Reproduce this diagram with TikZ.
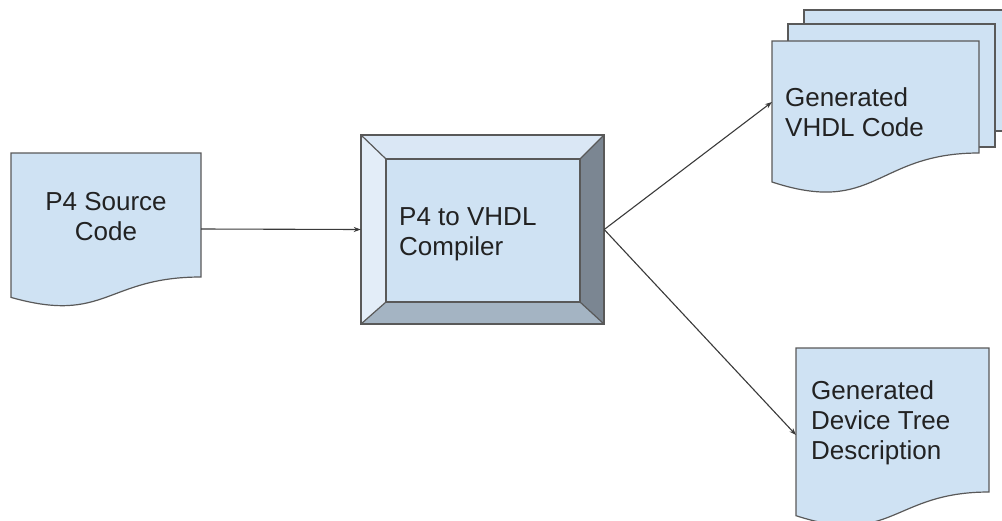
\documentclass[tikz,border=0pt]{standalone}
\usepackage{fontspec}
\setmainfont{Liberation Sans}
\usetikzlibrary{arrows.meta,calc}
\definecolor{docfill}{HTML}{CFE2F3}
\definecolor{docline}{HTML}{595959}
\definecolor{arrowc}{HTML}{3A3A3A}
\definecolor{textc}{HTML}{222222}
\definecolor{bvtop}{HTML}{DAE7F5}
\definecolor{bvleft}{HTML}{E3EDF8}
\definecolor{bvright}{HTML}{7B8692}
\definecolor{bvbot}{HTML}{A4B4C3}
\begin{document}
\begin{tikzpicture}[x=1pt,y=-1pt,
  doc/.style={draw=docline, fill=docfill, line width=1.2pt, line join=miter},
  bevel/.style={draw=docline, line width=1.2pt, line join=miter},
  lbl/.style={font=\fontsize{26}{30}\selectfont, text=textc, inner sep=0pt},
  conn/.style={draw=arrowc, line width=1.1pt, -{Stealth[length=7pt,width=5pt]}}]
\useasboundingbox (0,0) rectangle (1002,520);
\clip (0,0) rectangle (1002,520);

% P4 source document
\draw[doc] (11,153) -- (201,153) -- (201,277) .. controls (106,277) and (106,324.3) .. (11,297.4) -- cycle;
\node[lbl, align=center] (srctext) at (106,216.5) {P4 Source\\Code};
\coordinate (srcR) at (201,229);

% Compiler bevel box
\node[minimum width=243pt, minimum height=189pt, inner sep=0pt, draw=none] (comp) at (482.5,229.5) {};
\fill[bvtop] (361,135) -- (604,135) -- (580,159) -- (386,159) -- cycle;
\fill[bvleft] (361,135) -- (386,159) -- (386,302) -- (361,324) -- cycle;
\fill[bvright] (604,135) -- (604,324) -- (580,302) -- (580,159) -- cycle;
\fill[bvbot] (361,324) -- (604,324) -- (580,302) -- (386,302) -- cycle;
\fill[docfill] (386,159) rectangle (580,302);
\draw[bevel] (361,135) rectangle (604,324);
\draw[bevel] (386,159) rectangle (580,302);
\draw[bevel] (361,135) -- (386,159) (604,135) -- (580,159) (604,324) -- (580,302) (361,324) -- (386,302);
\node[lbl, align=left, anchor=west] (comptext) at (399,234) {P4 to VHDL\\Compiler};

% Generated VHDL code (multi-document)
\draw[doc] (804,10) rectangle (1012,131);
\draw[doc] (788,24) rectangle (995,147);
\draw[doc] (772,41) -- (979,41) -- (979,153) .. controls (875.5,153) and (875.5,216) .. (772,182) -- cycle;
\node[lbl, align=left, anchor=west] (vhdltext) at (785,112.5) {Generated\\VHDL Code};
\coordinate (vhdlL) at (772,102);

% Device tree document
\draw[doc] (796,348) -- (989,348) -- (989,492) .. controls (892.5,492) and (892.5,547) .. (796,515.7) -- cycle;
\node[lbl, align=left, anchor=west] (dttext) at (811,423) {Generated\\Device Tree\\Description};
\coordinate (dtL) at (796,435);

% Connectors
\draw[conn] (srcR) -- (comp.west);
\draw[conn] (comp.east) -- (vhdlL);
\draw[conn] (comp.east) -- (dtL);
\end{tikzpicture}
\end{document}
